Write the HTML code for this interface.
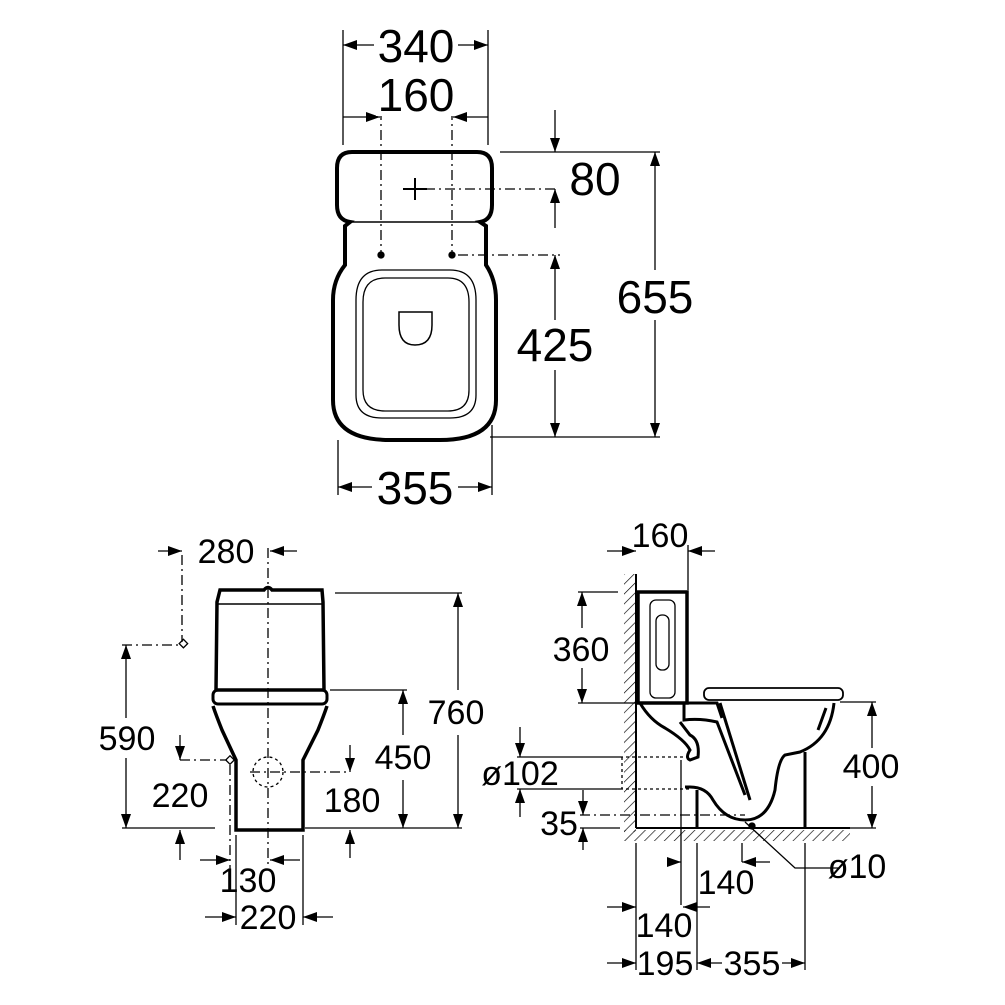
<!DOCTYPE html>
<html><head><meta charset="utf-8"><style>
html,body{margin:0;padding:0;background:#fff}
svg{display:block}
text{font-family:"Liberation Sans",Arial,sans-serif;fill:#000}
</style></head><body>
<svg width="1005" height="1005" viewBox="0 0 1005 1005" xmlns="http://www.w3.org/2000/svg">
<defs>
<marker id="a" viewBox="0 0 14 10" refX="14" refY="5" markerWidth="14" markerHeight="10" markerUnits="userSpaceOnUse" orient="auto"><path d="M0,0L14,5L0,10z" fill="#000"/></marker>
<pattern id="h" width="7" height="7" patternUnits="userSpaceOnUse" patternTransform="rotate(45)"><line x1="0" y1="0" x2="0" y2="7" stroke="#000" stroke-width="1.3"/></pattern>
</defs>
<g stroke="#000" fill="none" stroke-width="1.3">
<!-- TOP VIEW -->
<line x1="343" y1="30" x2="343" y2="145"/><line x1="488" y1="30" x2="488" y2="145"/>
<line x1="375" y1="45" x2="343" y2="45" marker-end="url(#a)"/><line x1="456" y1="45" x2="488" y2="45" marker-end="url(#a)"/>
<line x1="343" y1="117" x2="380" y2="117" marker-end="url(#a)"/><line x1="488" y1="117" x2="453" y2="117" marker-end="url(#a)"/>
<line x1="381" y1="110" x2="381" y2="255" stroke-dasharray="10,4,2,4"/><line x1="452" y1="110" x2="452" y2="255" stroke-dasharray="10,4,2,4"/>
<path d="M352,152 H477 Q492,152 492,168 V205 Q492,220 480,222 L486,226 V265 Q496,280 496,300 V400 Q496,440 440,440 H390 Q333,440 333,400 V300 Q333,280 345,265 V226 L350,222 Q337,220 337,205 V168 Q337,152 352,152 Z" stroke-width="4"/>
<line x1="350" y1="222" x2="480" y2="222" stroke-width="1.5"/>
<path d="M382,270 H450 Q476,270 476,300 V395 Q476,418 450,418 H382 Q356,418 356,395 V300 Q356,270 382,270 Z" stroke-width="1.3"/>
<path d="M385,278 H448 Q469,278 469,302 V390 Q469,411 448,411 H385 Q363,411 363,390 V302 Q363,278 385,278 Z" stroke-width="1.3"/>
<path d="M399,312 H432 V325 Q432,345 415,345 Q399,345 399,325 Z" stroke-width="1.5"/>
<circle cx="381" cy="255" r="3" fill="#000"/><circle cx="452" cy="255" r="3" fill="#000"/>
<path d="M415,178 V200 M403,189 H427" stroke-width="2"/>
<line x1="425" y1="189" x2="555" y2="189" stroke-dasharray="10,4,2,4"/>
<line x1="458" y1="255" x2="560" y2="255" stroke-dasharray="10,4,2,4"/>
<line x1="500" y1="152" x2="660" y2="152"/><line x1="490" y1="437" x2="660" y2="437"/>
<line x1="555" y1="110" x2="555" y2="152" marker-end="url(#a)"/>
<line x1="555" y1="228" x2="555" y2="189" marker-end="url(#a)"/>
<line x1="555" y1="320" x2="555" y2="255" marker-end="url(#a)"/><line x1="555" y1="370" x2="555" y2="437" marker-end="url(#a)"/>
<line x1="655" y1="270" x2="655" y2="152" marker-end="url(#a)"/><line x1="655" y1="320" x2="655" y2="437" marker-end="url(#a)"/>
<line x1="338" y1="440" x2="338" y2="495"/><line x1="492" y1="425" x2="492" y2="495"/>
<line x1="372" y1="487" x2="338" y2="487" marker-end="url(#a)"/><line x1="458" y1="487" x2="492" y2="487" marker-end="url(#a)"/>

<!-- FRONT VIEW -->
<path d="M220,590 H264 Q268,585 272,590 H322 L323,602 L324,690 H216 L217,602 Z" stroke-width="3.5"/>
<line x1="218" y1="604" x2="322" y2="604" stroke-width="1.5"/>
<rect x="213" y="690" width="114" height="14" rx="5" stroke-width="3"/>
<path d="M213,706 Q216,715 222,730 L236,760 V830 H303 V760 L318,730 Q324,715 327,706" stroke-width="3.5"/>
<line x1="268" y1="548" x2="268" y2="865" stroke-dasharray="10,4,2,4"/>
<line x1="182" y1="555" x2="182" y2="642" stroke-dasharray="10,4,2,4"/>
<line x1="122" y1="645" x2="179" y2="645" stroke-dasharray="10,4,2,4"/>
<rect x="178" y="641" width="6" height="6" transform="rotate(45 182 645) translate(1 -1)"/>
<line x1="158" y1="551" x2="182" y2="551" marker-end="url(#a)"/><line x1="297" y1="551" x2="270" y2="551" marker-end="url(#a)"/>
<line x1="335" y1="593" x2="462" y2="593"/><line x1="305" y1="828" x2="462" y2="828"/>
<line x1="458" y1="690" x2="458" y2="593" marker-end="url(#a)"/><line x1="458" y1="735" x2="458" y2="828" marker-end="url(#a)"/>
<line x1="330" y1="690" x2="407" y2="690"/>
<line x1="403" y1="735" x2="403" y2="690" marker-end="url(#a)"/><line x1="403" y1="780" x2="403" y2="828" marker-end="url(#a)"/>
<line x1="122" y1="828" x2="215" y2="828"/>
<line x1="126" y1="718" x2="126" y2="645" marker-end="url(#a)"/><line x1="126" y1="758" x2="126" y2="828" marker-end="url(#a)"/>
<line x1="180" y1="735" x2="180" y2="760" marker-end="url(#a)"/><line x1="180" y1="860" x2="180" y2="830" marker-end="url(#a)"/>
<line x1="180" y1="760" x2="227" y2="760" stroke-dasharray="10,4,2,4"/>
<rect x="227" y="757" width="6" height="6" transform="rotate(45 230 760)"/>
<line x1="230" y1="765" x2="230" y2="870" stroke-dasharray="10,4,2,4"/>
<circle cx="268" cy="772" r="15" stroke-dasharray="3,3"/>
<line x1="250" y1="772" x2="350" y2="772" stroke-dasharray="10,4,2,4"/>
<line x1="350" y1="745" x2="350" y2="772" marker-end="url(#a)"/><line x1="350" y1="858" x2="350" y2="830" marker-end="url(#a)"/>
<line x1="200" y1="860" x2="230" y2="860" marker-end="url(#a)"/><line x1="300" y1="860" x2="270" y2="860" marker-end="url(#a)"/>
<line x1="236" y1="835" x2="236" y2="925"/><line x1="303" y1="835" x2="303" y2="925"/>
<line x1="205" y1="917" x2="236" y2="917" marker-end="url(#a)"/><line x1="333" y1="917" x2="303" y2="917" marker-end="url(#a)"/>

<!-- SIDE VIEW -->
<rect x="624" y="574" width="12" height="258" fill="url(#h)" stroke="none"/>
<rect x="624" y="830" width="226" height="11" fill="url(#h)" stroke="none"/>
<line x1="636" y1="574" x2="636" y2="828" stroke-width="2"/>
<line x1="636" y1="828" x2="850" y2="828" stroke-width="2"/>
<rect x="638" y="592" width="49" height="111" stroke-width="3.5"/>
<rect x="650" y="600" width="25" height="98" rx="6" stroke-width="1.3"/>
<rect x="656" y="615" width="13" height="55" rx="6"/>
<rect x="704" y="688" width="139" height="12" rx="5" stroke-width="1.8"/>
<path d="M640,703 Q650,720 665,728 Q685,740 690,750 Q685,758 690,760 L698,757 Q700,740 690,735 L680,722 M678,703 H717 L722,718 M684,703 L684,720 Q700,718 717,722 L745,795" stroke-width="3"/>
<path d="M720,703 L750,800" stroke-width="3"/>
<path d="M834,703 Q830,740 800,752 L785,755 Q778,760 775,790 Q768,820 745,820 Q725,820 713,800 Q706,787 690,787 L685,787" stroke-width="3"/>
<line x1="805" y1="752" x2="805" y2="828" stroke-width="3"/>
<line x1="697" y1="790" x2="697" y2="828" stroke-width="3"/>
<path d="M826,708 L818,730" stroke-width="3"/>
<line x1="688" y1="545" x2="688" y2="590"/>
<line x1="607" y1="551" x2="636" y2="551" marker-end="url(#a)"/><line x1="715" y1="551" x2="688" y2="551" marker-end="url(#a)"/>
<line x1="578" y1="592" x2="618" y2="592"/><line x1="578" y1="703" x2="640" y2="703"/>
<line x1="582" y1="628" x2="582" y2="592" marker-end="url(#a)"/><line x1="582" y1="668" x2="582" y2="703" marker-end="url(#a)"/>
<line x1="840" y1="702" x2="876" y2="702"/><line x1="850" y1="828" x2="876" y2="828"/>
<line x1="872" y1="748" x2="872" y2="702" marker-end="url(#a)"/><line x1="872" y1="786" x2="872" y2="828" marker-end="url(#a)"/>
<line x1="517" y1="757" x2="620" y2="757"/><line x1="620" y1="757" x2="690" y2="757" stroke-dasharray="3,3"/>
<line x1="517" y1="789" x2="620" y2="789"/><line x1="620" y1="789" x2="690" y2="789" stroke-dasharray="3,3"/>
<line x1="622" y1="757" x2="622" y2="789" stroke-dasharray="3,3"/>
<line x1="681" y1="760" x2="681" y2="905"/>
<line x1="520" y1="727" x2="520" y2="757" marker-end="url(#a)"/><line x1="520" y1="817" x2="520" y2="789" marker-end="url(#a)"/>
<line x1="580" y1="815" x2="745" y2="815" stroke-dasharray="10,4,2,4"/><line x1="580" y1="828" x2="620" y2="828"/>
<line x1="583" y1="790" x2="583" y2="815" marker-end="url(#a)"/><line x1="583" y1="850" x2="583" y2="828" marker-end="url(#a)"/>
<path d="M745,822 L795,868 H840"/>
<circle cx="752" cy="826" r="3" fill="#000"/>
<line x1="636" y1="843" x2="636" y2="970"/><line x1="697" y1="843" x2="697" y2="970"/>
<line x1="742" y1="843" x2="742" y2="862"/><line x1="805" y1="843" x2="805" y2="970"/>
<line x1="667" y1="862" x2="681" y2="862" marker-end="url(#a)"/><line x1="770" y1="862" x2="742" y2="862" marker-end="url(#a)"/>
<line x1="607" y1="907" x2="636" y2="907" marker-end="url(#a)"/><line x1="710" y1="907" x2="683" y2="907" marker-end="url(#a)"/>
<line x1="607" y1="963" x2="636" y2="963" marker-end="url(#a)"/>
<line x1="722" y1="963" x2="697" y2="963" marker-end="url(#a)"/><line x1="782" y1="963" x2="805" y2="963" marker-end="url(#a)"/>
</g>
<g font-size="46" text-anchor="middle">
<rect x="374" y="26" width="84" height="40" fill="#fff"/>
<text x="416" y="62">340</text>
<rect x="376" y="76" width="80" height="40" fill="#fff"/>
<text x="416" y="111">160</text>
<text x="595" y="195">80</text>
<text x="555" y="361">425</text>
<text x="655" y="313">655</text>
<text x="415" y="504">355</text>
</g>
<g font-size="34" text-anchor="middle">
<text x="226" y="563">280</text>
<rect x="424" y="693" width="66" height="38" fill="#fff"/>
<text x="456" y="724">760</text>
<text x="403" y="769">450</text>
<text x="127" y="750">590</text>
<text x="180" y="807">220</text>
<text x="352" y="812">180</text>
<text x="248" y="892">130</text>
<text x="268" y="929">220</text>
<text x="660" y="547">160</text>
<text x="581" y="661">360</text>
<text x="871" y="778">400</text>
<text x="520" y="785">ø102</text>
<text x="559" y="835">35</text>
<text x="857" y="878">ø10</text>
<text x="726" y="894">140</text>
<text x="664" y="937">140</text>
<text x="665" y="975">195</text>
<text x="752" y="975">355</text>
</g>
</svg>
</body></html>
